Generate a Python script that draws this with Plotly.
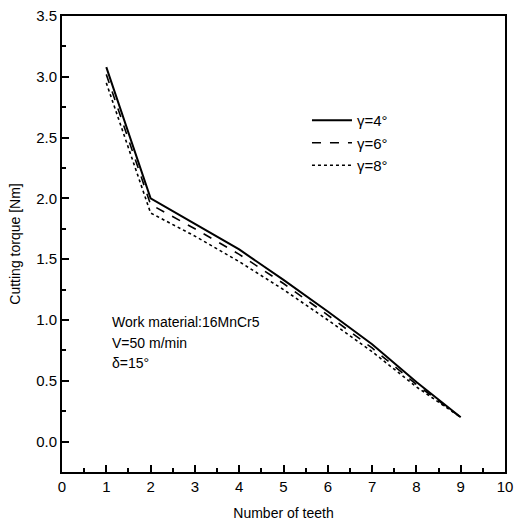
import plotly.graph_objects as go

teeth = [1, 2, 3, 4, 5, 6, 7, 8, 9]
torque_g4 = [3.08, 2.00, 1.79, 1.58, 1.33, 1.07, 0.80, 0.49, 0.20]
torque_g6 = [3.02, 1.95, 1.75, 1.54, 1.30, 1.04, 0.77, 0.47, 0.20]
torque_g8 = [2.95, 1.88, 1.69, 1.48, 1.25, 1.00, 0.74, 0.45, 0.20]
labels = ["γ=4°", "γ=6°", "γ=8°"]
dashes = ["solid", "dash", "dot"]
widths = [2, 1.6, 1.6]

x_ticks = list(range(0, 11))
y_ticks = [0.0, 0.5, 1.0, 1.5, 2.0, 2.5, 3.0, 3.5]

fig = go.Figure()
for ys, lab, d, w in zip([torque_g4, torque_g6, torque_g8], labels, dashes, widths):
    fig.add_trace(go.Scatter(x=teeth, y=ys, mode="lines", name=lab,
                             line=dict(color="black", dash=d, width=w)))

font = "Liberation Sans, Arial, sans-serif"
fig.update_layout(
    width=519, height=522,
    margin=dict(l=62, r=14, t=16, b=50),
    paper_bgcolor="white", plot_bgcolor="white",
    font=dict(family=font, color="black", size=14),
    showlegend=True,
    legend=dict(x=0.553, y=0.807, xanchor="left", yanchor="top",
                bgcolor="rgba(0,0,0,0)", font=dict(size=15),
                itemwidth=40, tracegroupgap=0),
    xaxis=dict(range=[0, 10], tickvals=x_ticks, ticktext=[str(v) for v in x_ticks],
               showline=True, mirror=True, linecolor="black", linewidth=2,
               ticks="inside", ticklen=7, tickwidth=1.5, tickcolor="black",
               minor=dict(ticks="inside", dtick=0.5, ticklen=4, tickcolor="black"),
               showgrid=False, zeroline=False, automargin=False,
               tickfont=dict(size=15),
               title=dict(text="Number of teeth", font=dict(size=14), standoff=14)),
    yaxis=dict(range=[-0.25, 3.5], tickvals=y_ticks, ticktext=[f"{v:.1f}" for v in y_ticks],
               showline=True, mirror=True, linecolor="black", linewidth=2,
               ticks="inside", ticklen=7, tickwidth=1.5, tickcolor="black",
               minor=dict(ticks="inside", dtick=0.25, ticklen=4, tickcolor="black"),
               showgrid=False, zeroline=False, automargin=False,
               tickfont=dict(size=15),
               title=dict(text="Cutting torque [Nm]", font=dict(size=14), standoff=12)),
)

notes = ["Work material:16MnCr5", "V=50 m/min", "δ=15°"]
note_y = [0.98, 0.815, 0.65]
for t, yv in zip(notes, note_y):
    fig.add_annotation(x=1.08, y=yv, xref="x", yref="y", text=t, showarrow=False,
                       xanchor="left", yanchor="middle", font=dict(size=14))

fig.write_html("out.html")
